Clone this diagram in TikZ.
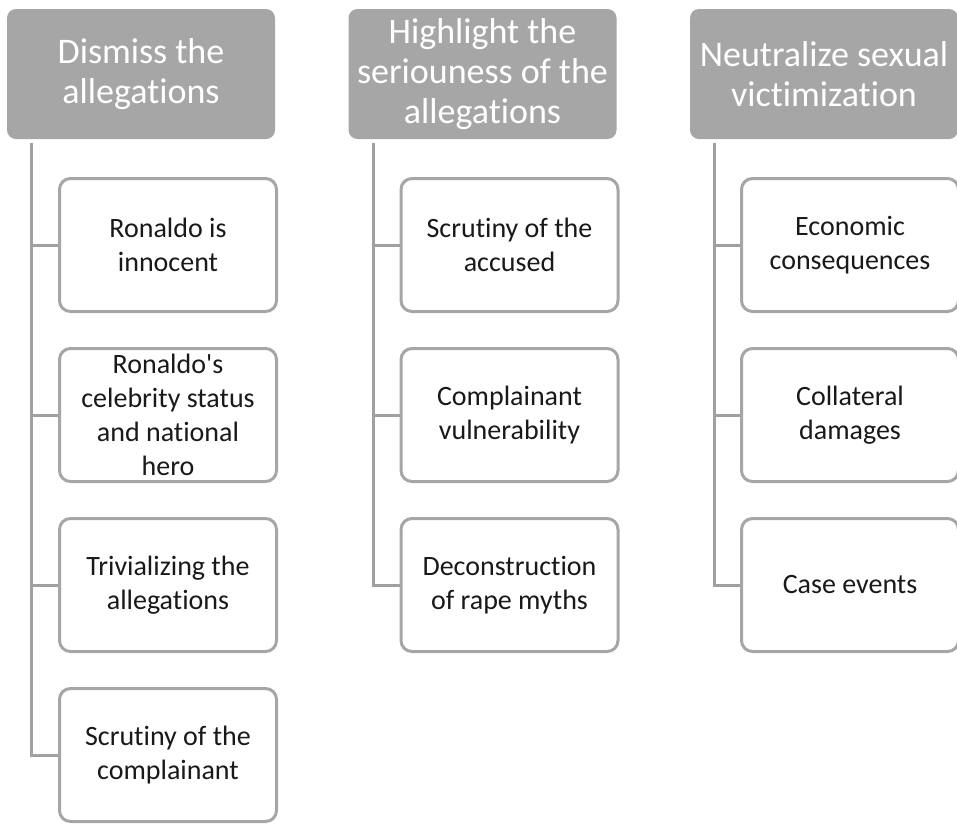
\documentclass[tikz,border=0pt]{standalone}
\usepackage{fontspec}
\setmainfont{Carlito}[Ligatures={TeX,NoCommon,NoContextual}]
\usepackage{tikz}
\usetikzlibrary{positioning}
\definecolor{hdrgray}{RGB}{166,166,166}
\definecolor{linegray}{RGB}{160,160,160}
\tikzset{
  hdr/.style={fill=hdrgray, rounded corners=9pt, text=white, align=center,
    minimum width=268pt, minimum height=130pt, inner sep=0pt,
    font=\fontsize{36}{40}\selectfont},
  item/.style={draw=hdrgray, line width=3pt, fill=white, rounded corners=11pt,
    align=center, minimum width=217pt, minimum height=133pt, inner sep=0pt,
    text=black!90, font=\fontsize{28}{34}\selectfont},
  conn/.style={draw=linegray, line width=3pt}
}

\begin{document}
\begin{tikzpicture}[x=1pt, y=-1pt]
		\useasboundingbox (0,0) rectangle (957,823);
		% headers
		\node[hdr] (H1) at (141,74) {Dismiss the\\allegations};
		\node[hdr] (H2) at (482.5,74) {Highlight the\\seriouness of the\\allegations};
		\node[hdr] (H3) at (824,74) {Neutralize sexual\\victimization};
		% first column
		\node[item] (C11) at (168,245) {Ronaldo is\\innocent};
		\node[item] (C12) at (168,415) {Ronaldo\textquotesingle s\\celebrity status\\and national\\hero};
		\node[item] (C13) at (168,585) {Trivializing the\\allegations};
		\node[item] (C14) at (168,755) {Scrutiny of the\\complainant};
		% second column
		\node[item] (C21) at (509.5,245) {Scrutiny of the\\accused};
		\node[item] (C22) at (509.5,415) {Complainant\\vulnerability};
		\node[item] (C23) at (509.5,585) {Deconstruction\\of rape myths};
		% third column
		\node[item] (C31) at (850,245) {Economic\\consequences};
		\node[item] (C32) at (850,415) {Collateral\\damages};
		\node[item] (C33) at (850,585) {Case events};
		% trunks
		\coordinate (T1) at ([xshift=25pt,yshift=-4pt]H1.south west);
		\coordinate (T2) at ([xshift=25pt,yshift=-4pt]H2.south west);
		\coordinate (T3) at ([xshift=25pt,yshift=-4pt]H3.south west);
		\draw[conn] (T1) |- (C14.west);
		\draw[conn] (T2) |- (C23.west);
		\draw[conn] (T3) |- (C33.west);
		\foreach \c in {C11,C12,C13} \draw[conn] (\c.west) -- (\c.west -| T1);
		\foreach \c in {C21,C22} \draw[conn] (\c.west) -- (\c.west -| T2);
		\foreach \c in {C31,C32} \draw[conn] (\c.west) -- (\c.west -| T3);
\end{tikzpicture}
\end{document}
